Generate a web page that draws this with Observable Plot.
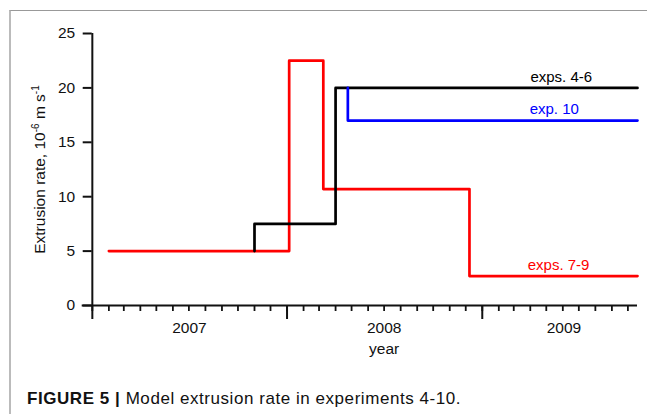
<!DOCTYPE html>
<html>
<head>
<meta charset="utf-8">
<script src="https://cdn.jsdelivr.net/npm/d3@7"></script>
<script src="https://cdn.jsdelivr.net/npm/@observablehq/plot@0.6"></script>
<style>
  body { margin: 0; background: #fff; width: 647px; height: 414px; overflow: hidden; position: relative;
         font-family: "Liberation Sans", Arial, Helvetica, sans-serif; }
  #frame { position: absolute; left: 9px; top: 10px; right: 0; bottom: 0;
           border-top: 1.5px solid #999; border-left: 2px solid #bbb; }
  #chart { position: absolute; left: 0; top: 0; }
  #caption { position: absolute; left: 27px; top: 389px; font-size: 17px; letter-spacing: 0.55px;
             color: #111; white-space: nowrap; }
</style>
</head>
<body>
<div id="frame"></div>
<div id="chart"></div>
<div id="caption"><b>FIGURE 5 |</b> Model extrusion rate in experiments 4-10.</div>
<script>
// time window shown on the x axis
const xStart = "2006-12-13";
const xEnd = "2009-10-19";
const yAxisAt = "2007-01-01";

// y ticks (10^-6 m/s)
const yTicks = [0, 5, 10, 15, 20, 25];

// year labels under the axis
const yearLabels = ["2007", "2008", "2009"];
const yearLabelDates = ["2007-07-02", "2008-07-01", "2009-06-03"];

// step series: date of each change and the rate from that date on
const redDates = ["2007-02-01", "2008-01-05", "2008-03-09", "2008-12-08", "2009-10-19"];
const redRates = [5, 22.5, 10.7, 2.7, 2.7];
const blackDates = ["2007-11-01", "2007-11-01", "2008-04-01", "2009-10-19"];
const blackRates = [5, 7.5, 20, 20];
const blueDates = ["2008-04-24", "2008-04-24", "2009-10-19"];
const blueRates = [20, 17, 17];

// series annotations
const seriesNames = ["exps. 4-6", "exp. 10", "exps. 7-9"];
const seriesColors = ["#000000", "#0000ff", "#ff0000"];
const seriesLabelDates = ["2009-05-29", "2009-05-16", "2009-05-24"];
const seriesLabelRates = [20, 17, 2.7];

const parse = d3.utcParse("%Y-%m-%d");
const toRows = (dates, rates) => dates.map((d, i) => ({date: parse(d), rate: rates[i]}));
const red = toRows(redDates, redRates);
const black = toRows(blackDates, blackRates);
const blue = toRows(blueDates, blueRates);
const seriesLabels = seriesNames.map((name, i) => ({
  name, color: seriesColors[i], date: parse(seriesLabelDates[i]), rate: seriesLabelRates[i]
}));
const yearRows = yearLabels.map((t, i) => ({text: t, date: parse(yearLabelDates[i])}));

const font = "Liberation Sans, Arial, Helvetica, sans-serif";

const chart = Plot.plot({
  width: 647,
  height: 360,
  marginLeft: 81.7,
  marginRight: 10,
  marginTop: 33,
  marginBottom: 55,
  style: {fontFamily: font, fontSize: "15.5px", color: "#111", background: "transparent"},
  x: {type: "utc", domain: [parse(xStart), parse(xEnd)]},
  y: {domain: [0, 25]},
  marks: [
    // monthly minor ticks
    Plot.axisX({ticks: d3.utcMonth.every(1), tickSize: 6, tickFormat: () => "", strokeWidth: 1.8, label: null}),
    // yearly major ticks
    Plot.axisX({ticks: d3.utcYear.every(1), tickSize: 14, tickFormat: () => "", strokeWidth: 2, label: null}),
    Plot.ruleY([0], {strokeWidth: 2}),
    Plot.ruleX([parse(yAxisAt)], {x: d => d, y1: 0, y2: 25, strokeWidth: 2}),
    Plot.axisY({ticks: yTicks, tickSize: 9, dx: 10, tickPadding: 8, strokeWidth: 2, label: null, fontSize: 15.5}),
    Plot.text(yearRows, {x: "date", y: () => 0, text: "text", dy: 23, fontSize: 15.5, fill: "#111"}),
    Plot.text(["year"], {x: () => yearRows[1].date, y: () => 0, text: d => d, dy: 44, fontSize: 15.5, fill: "#111"}),
    Plot.text(["Extrusion rate, 10-6 m s-1"], {frameAnchor: "left", dx: -42, rotate: -90, text: d => d,
      textAnchor: "middle", fontSize: 15.5, fill: "#111", className: "ylab"}),
    // series
    Plot.line(red, {x: "date", y: "rate", curve: "step-after", stroke: seriesColors[2], strokeWidth: 2.7}),
    Plot.line(black, {x: "date", y: "rate", curve: "step-after", stroke: seriesColors[0], strokeWidth: 2.7}),
    Plot.line(blue, {x: "date", y: "rate", curve: "step-after", stroke: seriesColors[1], strokeWidth: 2.7}),
    Plot.text(seriesLabels, {x: "date", y: "rate", text: "name", fill: "color", dy: -11, fontSize: 15})
  ]
});

// superscripts in the y-axis title
const yl = d3.select(chart).select("g.ylab text");
if (!yl.empty()) {
  yl.text(null);
  yl.append("tspan").text("Extrusion rate, 10");
  yl.append("tspan").attr("dy", -6).attr("font-size", 10).text("-6");
  yl.append("tspan").attr("dy", 6).text(" m s");
  yl.append("tspan").attr("dy", -6).attr("font-size", 10).text("-1");
}

document.getElementById("chart").appendChild(chart);
</script>
</body>
</html>
